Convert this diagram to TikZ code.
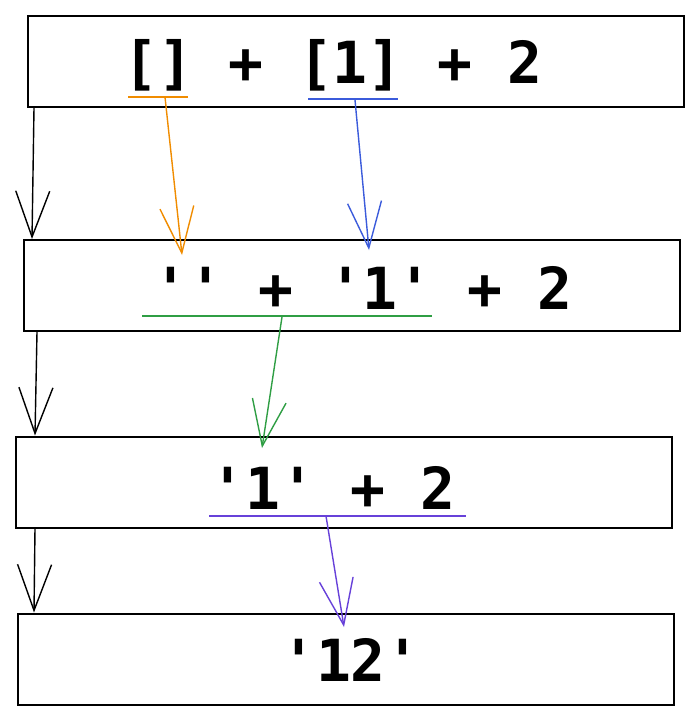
\documentclass[tikz,border=0pt]{standalone}
\usepackage{fontspec}
\setmonofont{DejaVu Sans Mono}
\usetikzlibrary{arrows.meta}
\begin{document}
\begin{tikzpicture}[x=1pt,y=-1pt,
  box/.style={draw=black, line width=2pt, minimum width=656pt, minimum height=91pt, inner sep=0pt, fill=white},
  code/.style={font=\fontsize{58}{60}\selectfont\ttfamily\bfseries, inner sep=0pt, anchor=center},
  flow/.style={line width=1.4pt, -{Straight Barb[length=46pt,width=34pt,line width=1.4pt]}},
  ul/.style={line width=2pt}]
\useasboundingbox (0,0) rectangle (700,721);
\definecolor{corange}{HTML}{F08C00}
\definecolor{cblue}{HTML}{3B5BDB}
\definecolor{cgreen}{HTML}{2F9E44}
\definecolor{cpurple}{HTML}{6741D9}
% boxes
\node[box] (b1) at (356,61.5) {};
\node[box] (b2) at (352,285.5) {};
\node[box] (b3) at (344,482) {};
\node[box] (b4) at (346,659) {};
% texts
\node[code] (t1) at (333,65) {[]\ +\ [1]\ +\ 2};
\node[code] (t2) at (363,288) {'{}'\ +\ '1'\ +\ 2};
\node[code] (t3) at (333,488) {'1'\ +\ 2};
\node[code] (t4) at (351,660) {'12'};
% black flow arrows
\draw[flow] ([xshift=7pt]b1.south west) -- ([xshift=9pt]b2.north west);
\draw[flow] ([xshift=14pt]b2.south west) -- ([xshift=20pt]b3.north west);
\draw[flow] ([xshift=20pt]b3.south west) -- ([xshift=17pt]b4.north west);
% underlines
\coordinate (o1) at (128,97); \coordinate (o2) at (188,97); \coordinate (om) at (165,97);
\coordinate (l1) at (308,99); \coordinate (l2) at (398,99); \coordinate (lm) at (355,100);
\coordinate (g1) at (142,316); \coordinate (g2) at (432,316); \coordinate (gm) at (282,317);
\coordinate (p1) at (209,516); \coordinate (p2) at (466,516); \coordinate (pm) at (326,516);
\draw[ul, corange] (o1) -- (o2);
\draw[ul, cblue] (l1) -- (l2);
\draw[ul, cgreen] (g1) -- (g2);
\draw[ul, cpurple] (p1) -- (p2);
% targets
\coordinate (oe) at (182,255);
\coordinate (le) at (369,250);
\coordinate (ge) at (262,448);
\coordinate (pe) at (344,627);
\draw[flow, corange] (om) -- (oe);
\draw[flow, cblue] (lm) -- (le);
\draw[flow, cgreen] (gm) -- (ge);
\draw[flow, cpurple] (pm) -- (pe);
\end{tikzpicture}
\end{document}
